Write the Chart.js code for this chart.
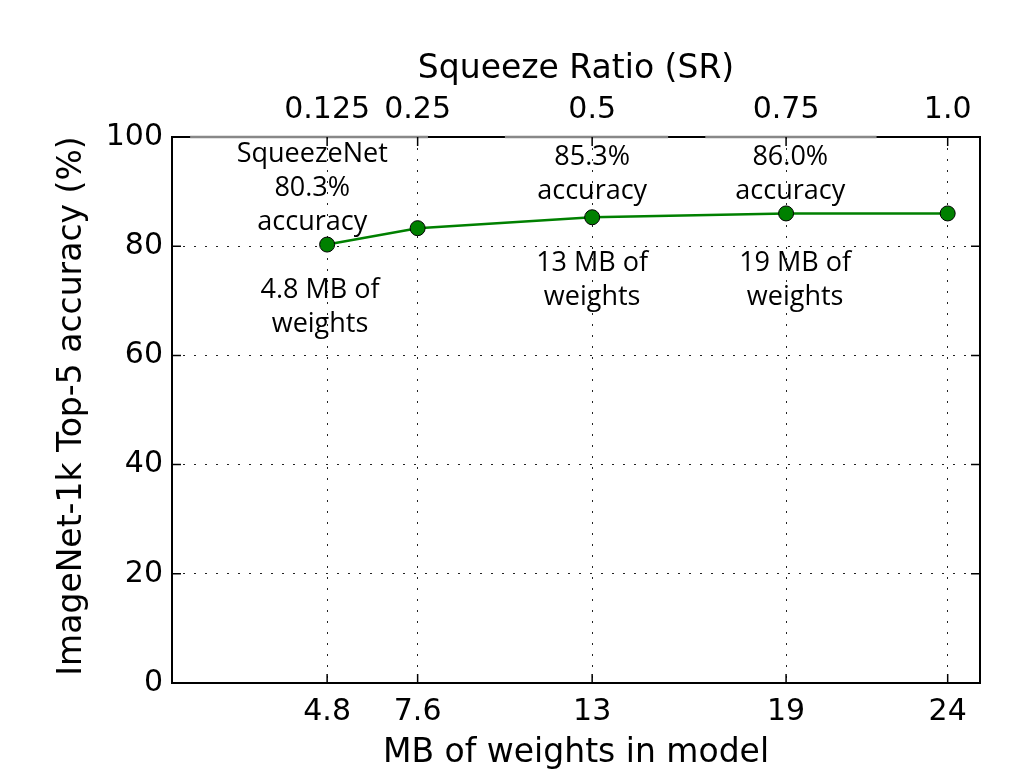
<!DOCTYPE html>
<html>
<head>
<meta charset="utf-8">
<script src="https://cdn.jsdelivr.net/npm/chart.js@4.4.0/dist/chart.umd.min.js"></script>
<style>
  html, body { margin: 0; padding: 0; background: #fff; }
  #wrap { width: 1026px; height: 772px; }
</style>
</head>
<body>
<div id="wrap"><canvas id="chart" width="1026" height="772"></canvas></div>
<script>
// model size (MB) and matching squeeze ratio
const mbWeights = [4.8, 7.6, 13, 19, 24];
const squeezeRatio = ["0.125", "0.25", "0.5", "0.75", "1.0"];
const top5Acc = [80.3, 83.3, 85.3, 86.0, 86.0];
const yTicks = [0, 20, 40, 60, 80, 100];
const yTitle = "ImageNet-1k Top-5 accuracy (%)";

// text boxes: [x, y, lines]
const notes = [
  [4.34, 96.9, ["SqueezeNet", "80.3%", "accuracy"]],
  [4.58, 71.9, ["4.8 MB of", "weights"]],
  [13, 96.3, ["85.3%", "accuracy"]],
  [13, 76.8, ["13 MB of", "weights"]],
  [19.13, 96.3, ["86.0%", "accuracy"]],
  [19.28, 76.8, ["19 MB of", "weights"]],
];

// grey pieces of the top spine (in x data units)
const topSpineGray = [[0.56, 7.92], [10.3, 15.35], [16.5, 21.8]];

const tickFont = { family: "DejaVu Sans", size: 30 };
const titleFont = { family: "DejaVu Sans", size: 33 };
const dots = [2, 9];

const framePlugin = {
  id: "frame",
  afterDatasetsDraw(chart) {
    const { ctx, chartArea: a, scales } = chart;
    ctx.save();
    ctx.strokeStyle = "#000";
    ctx.lineWidth = 2;
    ctx.strokeRect(a.left, a.top, a.right - a.left, a.bottom - a.top);
    ctx.strokeStyle = "#888";
    ctx.lineWidth = 2.5;
    topSpineGray.forEach(([s, e]) => {
      ctx.beginPath();
      ctx.moveTo(scales.x.getPixelForValue(s), a.top);
      ctx.lineTo(scales.x.getPixelForValue(e), a.top);
      ctx.stroke();
    });
    // inward ticks
    ctx.strokeStyle = "#000";
    ctx.lineWidth = 1.5;
    const len = 9;
    mbWeights.forEach((v) => {
      const px = scales.x.getPixelForValue(v);
      ctx.beginPath();
      ctx.moveTo(px, a.bottom); ctx.lineTo(px, a.bottom - len);
      ctx.moveTo(px, a.top); ctx.lineTo(px, a.top + len);
      ctx.stroke();
    });
    yTicks.forEach((v) => {
      const py = scales.y.getPixelForValue(v);
      ctx.beginPath();
      ctx.moveTo(a.left, py); ctx.lineTo(a.left + len, py);
      ctx.moveTo(a.right, py); ctx.lineTo(a.right - len, py);
      ctx.stroke();
    });
    ctx.restore();
  },
  afterDraw(chart) {
    const { ctx, scales, chartArea: a } = chart;
    ctx.save();
    ctx.fillStyle = "#000";
    ctx.font = "27px 'Open Sans'";
    ctx.textAlign = "center";
    ctx.textBaseline = "middle";
    notes.forEach(([x, y, lines]) => {
      const px = scales.x.getPixelForValue(x);
      const py = scales.y.getPixelForValue(y);
      lines.forEach((t, i) => ctx.fillText(t, px, py + i * 34));
    });
    // y axis title, drawn unclamped
    ctx.font = "33px 'DejaVu Sans'";
    ctx.translate(72, (a.top + a.bottom) / 2 - 4);
    ctx.rotate(-Math.PI / 2);
    ctx.fillText(yTitle, 0, 0);
    ctx.restore();
  },
};

new Chart(document.getElementById("chart"), {
  type: "line",
  data: {
    datasets: [
      {
        data: mbWeights.map((x, i) => ({ x: x, y: top5Acc[i] })),
        borderColor: "#008000",
        borderWidth: 2.5,
        backgroundColor: "#008000",
        pointBorderColor: "#000",
        pointBorderWidth: 1,
        pointRadius: 7.5,
        tension: 0,
      },
    ],
  },
  options: {
    responsive: false,
    animation: false,
    layout: { padding: { top: 0, left: 0, right: 46, bottom: 0 } },
    plugins: { legend: { display: false }, tooltip: { enabled: false } },
    scales: {
      x: {
        type: "linear",
        position: "bottom",
        min: 0,
        max: 25,
        afterBuildTicks: (s) => { s.ticks = mbWeights.map((v) => ({ value: v })); },
        afterFit: (s) => { s.height = 89; },
        ticks: { color: "#000", font: tickFont, padding: 11, maxRotation: 0,
          callback: (v) => String(v) },
        grid: { color: "#222", lineWidth: 1, drawTicks: false },
        border: { display: false, dash: dots },
        title: { display: true, text: "MB of weights in model", color: "#000",
          font: titleFont, padding: -1 },
      },
      x2: {
        type: "linear",
        position: "top",
        min: 0,
        max: 25,
        afterBuildTicks: (s) => { s.ticks = mbWeights.map((v) => ({ value: v })); },
        afterFit: (s) => { s.height = 137; },
        ticks: { color: "#000", font: tickFont, padding: 9, maxRotation: 0,
          callback: (v) => squeezeRatio[mbWeights.indexOf(v)] },
        grid: { display: false, drawTicks: false },
        border: { display: false },
        title: { display: true, text: "Squeeze Ratio (SR)", color: "#000",
          font: titleFont, padding: 50 },
      },
      y: {
        min: 0,
        max: 100,
        afterBuildTicks: (s) => { s.ticks = yTicks.map((v) => ({ value: v })); },
        afterFit: (s) => { s.width = 172; },
        ticks: { color: "#000", font: tickFont, padding: 9 },
        grid: { color: "#222", lineWidth: 1, drawTicks: false },
        border: { display: false, dash: dots },
        title: { display: false },
      },
    },
  },
  plugins: [framePlugin],
});
</script>
</body>
</html>
